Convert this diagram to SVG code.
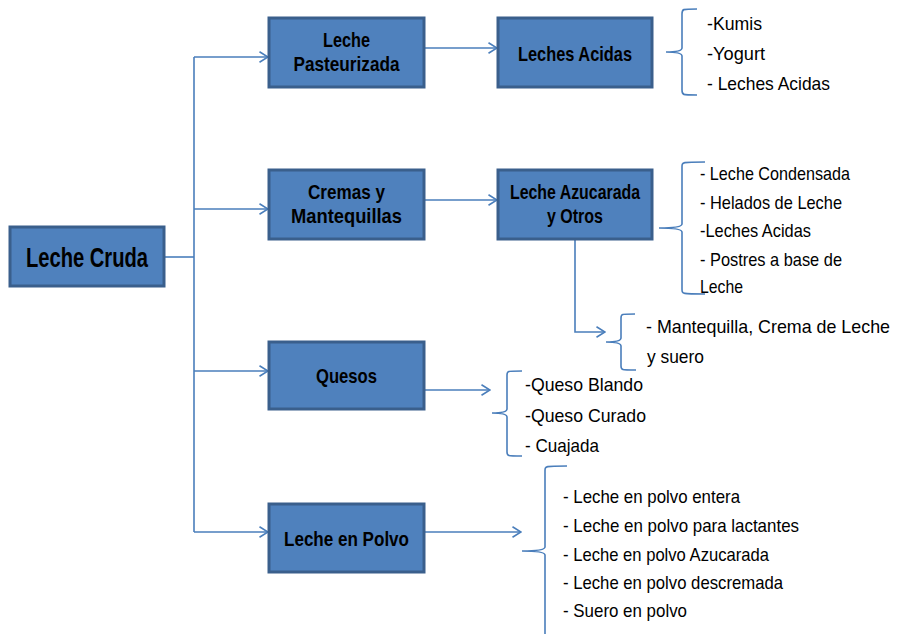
<svg xmlns="http://www.w3.org/2000/svg" width="902" height="634" viewBox="0 0 902 634">
<defs>
<marker id="arr" viewBox="0 0 10 12" refX="9.5" refY="6" markerWidth="10" markerHeight="12" markerUnits="userSpaceOnUse" orient="auto">
<path d="M1,0.8 L9.5,6 L1,11.2" fill="none" stroke="#4A7EBB" stroke-width="1.6"/>
</marker>
<style>
.box{fill:#4F81BD;stroke:#3A5F8C;stroke-width:3}
.bt{font-family:"Liberation Sans",Arial,sans-serif;font-weight:bold;font-size:21px;fill:#000;text-anchor:middle}
.big{font-size:28px}
.t{font-family:"Liberation Sans",Arial,sans-serif;font-size:19px;fill:#000}
.ln{fill:none;stroke:#4A7EBB;stroke-width:1.6}
</style>
</defs>
<rect width="902" height="634" fill="#fff"/>

<g id="connectors">
<path class="ln" d="M164,257 L194,257"/>
<path class="ln" d="M194,57 L194,532"/>
<path class="ln" d="M194,57 L268,57" marker-end="url(#arr)"/>
<path class="ln" d="M194,209 L268,209" marker-end="url(#arr)"/>
<path class="ln" d="M194,371 L268,371" marker-end="url(#arr)"/>
<path class="ln" d="M194,532 L268,532" marker-end="url(#arr)"/>
<path class="ln" d="M424,48 L497,48" marker-end="url(#arr)"/>
<path class="ln" d="M424,200 L497,200" marker-end="url(#arr)"/>
<path class="ln" d="M575,239 L575,332 L605,332" marker-end="url(#arr)"/>
<path class="ln" d="M424,390 L490,390" marker-end="url(#arr)"/>
<path class="ln" d="M424,532 L521,532" marker-end="url(#arr)"/>
</g>

<g id="braces">
<path class="ln" d="M697,9 C682,9 682,9 682,14 L682,48 Q682,52 666,52 Q682,52 682,56 L682,90 C682,95 682,95 697,95"/>
<path class="ln" d="M705,162 C682,162 682,162 682,167 L682,224 Q682,228 659,228 Q682,228 682,232 L682,289 C682,294 682,294 705,294"/>
<path class="ln" d="M635,314 C621,314 621,314 621,318 L621,338 Q621,342 606,342 Q621,342 621,346 L621,366 C621,370 621,370 636,370"/>
<path class="ln" d="M522,371 C507,371 507,371 507,375 L507,409 Q507,413 492,413 Q507,413 507,417 L507,452 C507,456 507,456 522,456"/>
<path class="ln" d="M567,466 C545,466 545,466 545,471 L545,547 Q545,551 522,551 Q545,551 545,555 L545,634"/>
</g>

<g id="leche-cruda">
<rect class="box" x="10" y="227" width="154" height="59"/>
<text class="bt big" x="87" y="267" textLength="122" lengthAdjust="spacingAndGlyphs">Leche Cruda</text>
</g>
<g id="leche-pasteurizada">
<rect class="box" x="269" y="18" width="155" height="69"/>
<text class="bt" x="346.5" y="47" textLength="47" lengthAdjust="spacingAndGlyphs">Leche</text>
<text class="bt" x="346.5" y="71" textLength="106" lengthAdjust="spacingAndGlyphs">Pasteurizada</text>
</g>
<g id="cremas">
<rect class="box" x="269" y="170" width="155" height="69"/>
<text class="bt" x="346.5" y="199" textLength="77" lengthAdjust="spacingAndGlyphs">Cremas y</text>
<text class="bt" x="346.5" y="223" textLength="111" lengthAdjust="spacingAndGlyphs">Mantequillas</text>
</g>
<g id="quesos">
<rect class="box" x="269" y="342" width="155" height="67"/>
<text class="bt" x="346.5" y="383" textLength="61" lengthAdjust="spacingAndGlyphs">Quesos</text>
</g>
<g id="leche-polvo">
<rect class="box" x="269" y="504" width="155" height="68"/>
<text class="bt" x="346.5" y="546" textLength="125" lengthAdjust="spacingAndGlyphs">Leche en Polvo</text>
</g>
<g id="leches-acidas">
<rect class="box" x="498" y="18" width="154" height="69"/>
<text class="bt" x="575" y="61" textLength="114" lengthAdjust="spacingAndGlyphs">Leches Acidas</text>
</g>
<g id="leche-azucarada">
<rect class="box" x="498" y="170" width="154" height="69"/>
<text class="bt" x="575" y="199" textLength="130" lengthAdjust="spacingAndGlyphs">Leche Azucarada</text>
<text class="bt" x="575" y="223" textLength="56" lengthAdjust="spacingAndGlyphs">y Otros</text>
</g>

<g id="list-acidas">
<text class="t" x="707" y="30" textLength="55" lengthAdjust="spacingAndGlyphs">-Kumis</text>
<text class="t" x="707" y="60" textLength="58" lengthAdjust="spacingAndGlyphs">-Yogurt</text>
<text class="t" x="707" y="90" textLength="123" lengthAdjust="spacingAndGlyphs">- Leches Acidas</text>
</g>
<g id="list-azucarada">
<text class="t" x="700" y="180" textLength="150" lengthAdjust="spacingAndGlyphs">- Leche Condensada</text>
<text class="t" x="700" y="209" textLength="142" lengthAdjust="spacingAndGlyphs">- Helados de Leche</text>
<text class="t" x="700" y="237" textLength="111" lengthAdjust="spacingAndGlyphs">-Leches Acidas</text>
<text class="t" x="700" y="266" textLength="142" lengthAdjust="spacingAndGlyphs">- Postres a base de</text>
<text class="t" x="700" y="293" textLength="43" lengthAdjust="spacingAndGlyphs">Leche</text>
</g>
<g id="list-mantequilla">
<text class="t" x="646" y="333" font-size="16" textLength="244" lengthAdjust="spacingAndGlyphs">- Mantequilla, Crema de Leche</text>
<text class="t" x="647" y="363" textLength="57" lengthAdjust="spacingAndGlyphs">y suero</text>
</g>
<g id="list-quesos">
<text class="t" x="525" y="391" textLength="118" lengthAdjust="spacingAndGlyphs">-Queso Blando</text>
<text class="t" x="525" y="422" textLength="121" lengthAdjust="spacingAndGlyphs">-Queso Curado</text>
<text class="t" x="525" y="452" textLength="74" lengthAdjust="spacingAndGlyphs">- Cuajada</text>
</g>
<g id="list-polvo">
<text class="t" x="563" y="503" textLength="177" lengthAdjust="spacingAndGlyphs">- Leche en polvo entera</text>
<text class="t" x="563" y="532" textLength="236" lengthAdjust="spacingAndGlyphs">- Leche en polvo para lactantes</text>
<text class="t" x="563" y="561" textLength="206" lengthAdjust="spacingAndGlyphs">- Leche en polvo Azucarada</text>
<text class="t" x="563" y="589" textLength="220" lengthAdjust="spacingAndGlyphs">- Leche en polvo descremada</text>
<text class="t" x="563" y="617" textLength="124" lengthAdjust="spacingAndGlyphs">- Suero en polvo</text>
</g>
</svg>
